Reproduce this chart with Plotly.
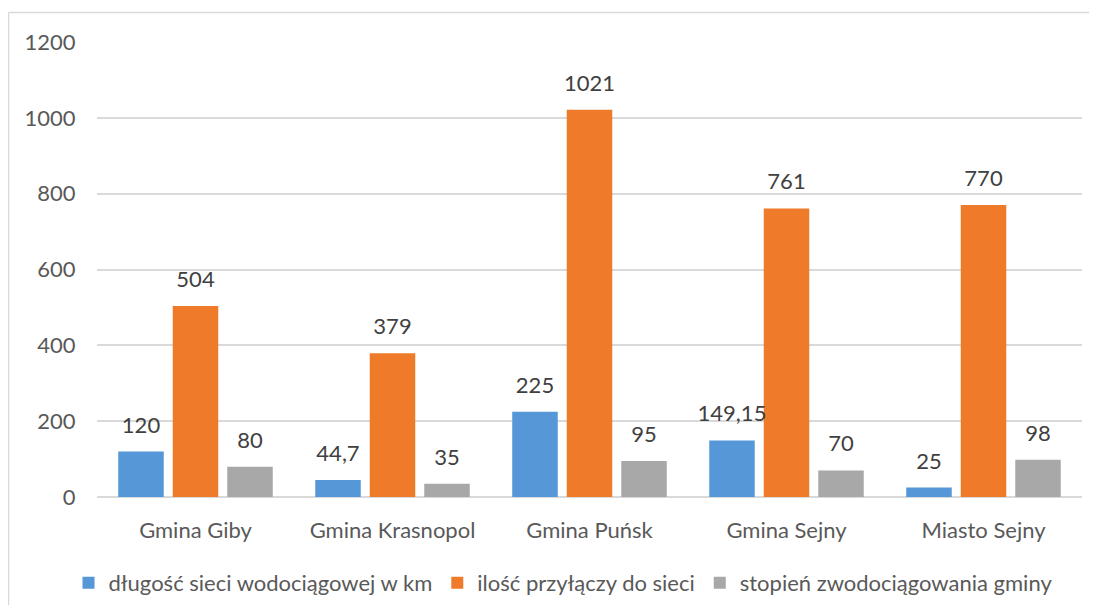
import plotly.graph_objects as go

categories = ["Gmina Giby", "Gmina Krasnopol", "Gmina Puńsk", "Gmina Sejny", "Miasto Sejny"]
dlugosc = [120, 44.7, 225, 149.15, 25]
przylacza = [504, 379, 1021, 761, 770]
stopien = [80, 35, 95, 70, 98]
series_names = ["długość sieci wodociągowej w km", "ilość przyłączy do sieci", "stopień zwodociągowania gminy"]
y_ticks = [0, 200, 400, 600, 800, 1000, 1200]

colors = ["#5597d7", "#ef7b2a", "#a8a8a8"]
FONT = "Lato"
FS = 22

def fmt(v):
    return ("%g" % v).replace(".", ",")


fig = go.Figure()
for i, (name, vals, col) in enumerate(zip(series_names, [dlugosc, przylacza, stopien], colors)):
    fig.add_trace(go.Bar(
        x=categories, y=vals, name=name, offsetgroup=str(i),
        marker=dict(color=col, line=dict(width=0)),
    ))
for i, vals in enumerate([dlugosc, przylacza, stopien]):
    fig.add_trace(go.Scatter(
        x=categories, y=vals, mode="markers+text", offsetgroup=str(i),
        marker=dict(size=20, opacity=0), showlegend=False, hoverinfo="skip",
        text=[fmt(v) for v in vals], textposition="top center",
        textfont=dict(size=FS, color="#404040", family=FONT),
        cliponaxis=False,
    ))

# page body has an 8px margin; work in window pixels then shift
OFF = 8
W, H = 1097 - 2 * OFF, 613 - 2 * OFF
L, T = 97 - OFF, 42 - OFF
R = W - (1082 - OFF)
B = H - (497 - OFF)
pw, ph = W - L - R, H - T - B


def px_x(x):
    return (x - OFF - L) / pw


def px_y(y):
    return (H - B - (y - OFF)) / ph


border = dict(color="#d9d9d9", width=1.5)
fig.update_layout(
    width=W, height=H,
    margin=dict(l=L, r=R, t=T, b=B, autoexpand=False),
    paper_bgcolor="white", plot_bgcolor="white",
    barmode="group", bargap=0.17, bargroupgap=0.165,
    scattermode="group", scattergap=0.17,
    font=dict(family=FONT, size=FS, color="#595959"),
    showlegend=True,
    legend=dict(orientation="h", xref="container", yref="container",
                x=(563 - OFF) / W, xanchor="center", y=(H - (583 - OFF)) / H, yanchor="middle",
                font=dict(size=FS, color="#595959", family=FONT), bgcolor="rgba(0,0,0,0)",
                traceorder="normal", itemclick=False, itemwidth=30),
    xaxis=dict(showgrid=False, showline=False, ticks="outside", ticklen=14, tickcolor="rgba(0,0,0,0)",
               tickfont=dict(size=FS, family=FONT, color="#595959")),
    yaxis=dict(range=[0, 1200], tickvals=y_ticks, showgrid=True, gridcolor="#d9d9d9",
               gridwidth=1.5, zeroline=True, zerolinecolor="#d9d9d9", zerolinewidth=1.5,
               showline=False, ticks="outside", ticklen=16, tickcolor="rgba(0,0,0,0)",
               tickfont=dict(size=FS, family=FONT, color="#595959")),
    shapes=[
        dict(type="line", xref="paper", yref="paper", x0=px_x(8.5), x1=px_x(8.5),
             y0=px_y(620), y1=px_y(12.5), line=border, layer="below"),
        dict(type="line", xref="paper", yref="paper", x0=px_x(8.5), x1=px_x(1100),
             y0=px_y(12.5), y1=px_y(12.5), line=border, layer="below"),
    ],
)

fig.write_html("out.html")
